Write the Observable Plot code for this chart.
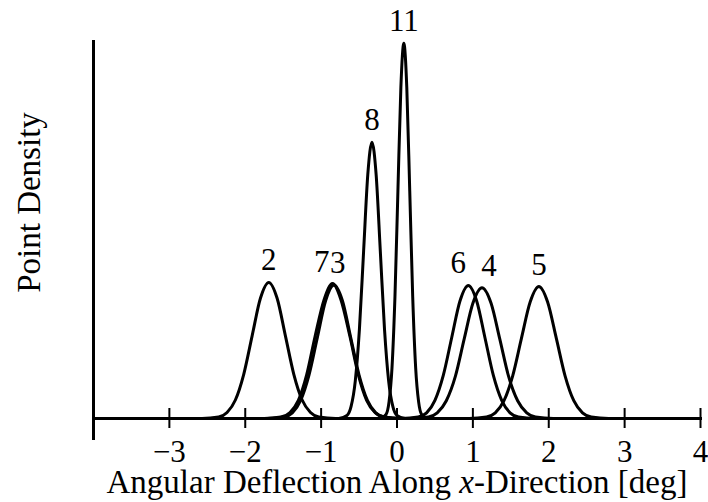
<!DOCTYPE html>
<html><head><meta charset="utf-8">
<script src="https://cdn.jsdelivr.net/npm/d3@7"></script>
<script src="https://cdn.jsdelivr.net/npm/@observablehq/plot@0.6"></script>
<style>html,body{margin:0;padding:0;background:#fff}</style>
</head><body><div id="chart"></div>
<script>
// Series (peak) names as labelled in the figure
const seriesNames = ["2", "7", "3", "8", "11", "6", "4", "5"];

// Density curves: [angle in deg, relative point density]
const curve2 = [[-4,0],[-2.57,0],[-2.35,0.004],[-2.24,0.016],[-2.13,0.049],[-2.02,0.117],[-1.91,0.218],[-1.80,0.318],[-1.69,0.36],[-1.58,0.318],[-1.47,0.218],[-1.36,0.117],[-1.25,0.049],[-1.14,0.016],[-1.03,0.004],[-0.81,0],[4,0]];
const curve7 = [[-4,0],[-1.75,0],[-1.53,0.004],[-1.41,0.016],[-1.30,0.048],[-1.19,0.116],[-1.08,0.217],[-0.96,0.315],[-0.85,0.357],[-0.74,0.315],[-0.62,0.217],[-0.51,0.116],[-0.40,0.048],[-0.29,0.016],[-0.17,0.004],[0.05,0],[4,0]];
const curve3 = [[-4,0],[-1.71,0],[-1.49,0.004],[-1.38,0.015],[-1.27,0.048],[-1.16,0.115],[-1.05,0.214],[-0.94,0.312],[-0.83,0.353],[-0.72,0.312],[-0.61,0.214],[-0.50,0.115],[-0.39,0.048],[-0.28,0.015],[-0.17,0.004],[0.05,0],[4,0]];
const curve8 = [[-4,0],[-0.77,0],[-0.66,0.008],[-0.605,0.032],[-0.55,0.099],[-0.495,0.237],[-0.44,0.443],[-0.385,0.645],[-0.33,0.731],[-0.275,0.645],[-0.22,0.443],[-0.165,0.237],[-0.11,0.099],[-0.055,0.032],[0.0,0.008],[0.11,0],[4,0]];
const curve11 = [[-4,0],[-0.222,0],[-0.144,0.011],[-0.105,0.044],[-0.066,0.134],[-0.027,0.322],[0.012,0.602],[0.051,0.876],[0.09,0.993],[0.129,0.876],[0.168,0.602],[0.207,0.322],[0.246,0.134],[0.285,0.044],[0.324,0.011],[0.402,0],[4,0]];
const curve6 = [[-4,0],[0.06,0],[0.28,0.004],[0.39,0.015],[0.50,0.048],[0.61,0.114],[0.72,0.213],[0.83,0.311],[0.94,0.352],[1.05,0.311],[1.16,0.213],[1.27,0.114],[1.38,0.048],[1.49,0.015],[1.60,0.004],[1.82,0],[4,0]];
const curve4 = [[-4,0],[0.18,0],[0.415,0.004],[0.53,0.015],[0.65,0.047],[0.77,0.112],[0.885,0.210],[1.00,0.305],[1.12,0.346],[1.24,0.305],[1.355,0.210],[1.47,0.112],[1.59,0.047],[1.71,0.015],[1.825,0.004],[2.06,0],[4,0]];
const curve5 = [[-4,0],[0.95,0],[1.18,0.004],[1.295,0.015],[1.41,0.047],[1.525,0.113],[1.64,0.212],[1.755,0.308],[1.87,0.349],[1.985,0.308],[2.10,0.212],[2.215,0.113],[2.33,0.047],[2.445,0.015],[2.56,0.004],[2.79,0],[4,0]];

// Axis tick values and texts
const xTicks = [-3, -2, -1, 0, 1, 2, 3, 4];
const xTitle = "Angular Deflection Along x-Direction [deg]";
const yTitle = "Point Density";

const curves = {"2": curve2, "7": curve7, "3": curve3, "8": curve8, "11": curve11, "6": curve6, "4": curve4, "5": curve5};
const rows = seriesNames.flatMap(name => curves[name].map(([x, y]) => ({name, x, y})));
const peaks = seriesNames.map(name => {
  const m = curves[name].reduce((a, b) => (b[1] > a[1] ? b : a));
  return {name, x: m[0], y: m[1]};
});

// label placement styles (not data)
const labelStyle = {"7": {textAnchor: "end", dx: -3}, "3": {textAnchor: "start", dx: -4}, "6": {dx: -10}, "4": {dx: 7}};

const fmt = d => (d < 0 ? "\u2212" + Math.abs(d) : String(d));

const svg = Plot.plot({
  width: 708,
  height: 502,
  marginLeft: 93,
  marginRight: 8,
  marginTop: 40,
  marginBottom: 84,
  style: {fontFamily: "'Liberation Serif', 'Times New Roman', serif", fontSize: "30px", color: "black", background: "white", overflow: "visible"},
  x: {domain: [-4, 4], axis: null},
  y: {domain: [0, 1], axis: null},
  marks: [
    Plot.ruleY([0], {stroke: "black", strokeWidth: 3}),
    Plot.ruleX([-4], {stroke: "black", strokeWidth: 3, insetBottom: -22}),
    Plot.ruleX(xTicks, {x: d => d, y1: 0, y2: 0, insetTop: -10, insetBottom: -10, stroke: "black", strokeWidth: 2}),
    Plot.text(xTicks, {x: d => d, y: 0, text: fmt, lineAnchor: "top", dy: 21, fontSize: 31, fill: "black"}),
    Plot.line(rows, {x: "x", y: "y", z: "name", curve: "monotone-x", stroke: "black", strokeWidth: 3, strokeLinejoin: "round"}),
    ...seriesNames.map(name => {
      const s = labelStyle[name] || {};
      return Plot.text(peaks.filter(p => p.name === name), {
        x: "x", y: "y", text: "name", lineAnchor: "bottom", dy: -12, dx: s.dx || 0,
        textAnchor: s.textAnchor || "middle", fontSize: 31, fill: "black"
      });
    }),
    Plot.text([xTitle], {text: d => d, frameAnchor: "bottom", textAnchor: "middle", lineAnchor: "bottom", dy: 74, fontSize: 33, fill: "black"}),
    Plot.text([yTitle], {text: d => d, frameAnchor: "left", textAnchor: "middle", lineAnchor: "middle", rotate: -90, dx: -64, dy: -27, fontSize: 33, fill: "black"})
  ]
});

// italic x in the axis title
svg.querySelectorAll("text").forEach(t => {
  if (t.textContent === xTitle) {
    t.textContent = "";
    const parts = [["Angular Deflection Along ", null], ["x", "italic"], ["-Direction [deg]", null]];
    for (const [str, style] of parts) {
      const ts = document.createElementNS("http://www.w3.org/2000/svg", "tspan");
      ts.textContent = str;
      if (style) ts.setAttribute("font-style", style);
      t.appendChild(ts);
    }
  }
});

document.getElementById("chart").appendChild(svg);
</script>
</body></html>
